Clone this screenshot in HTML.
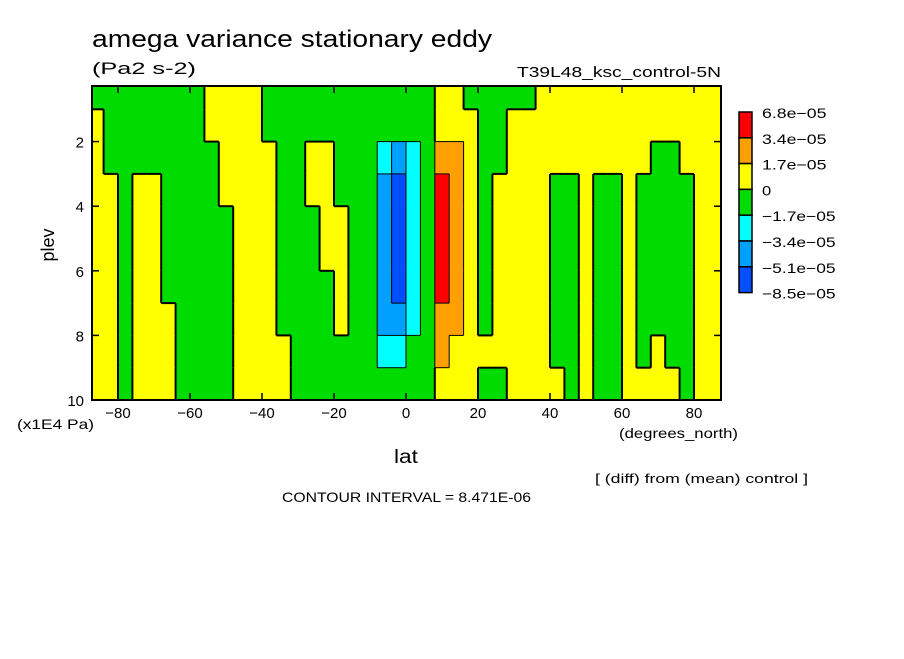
<!DOCTYPE html>
<html><head><meta charset="utf-8"><style>
body{margin:0;background:#fff;}
svg text{font-family:"Liberation Sans",sans-serif;fill:#000;}
</style></head><body>
<svg width="904" height="654" xmlns="http://www.w3.org/2000/svg">
<rect width="904" height="654" fill="#fff"/>
<g id="field"></g>
<g id="contours"></g>
<g id="axes"></g>
<g id="legend"></g>
<text x="92" y="47" font-size="24" textLength="400" lengthAdjust="spacingAndGlyphs">amega variance stationary eddy</text>
<text x="92" y="74" font-size="17" textLength="104" lengthAdjust="spacingAndGlyphs">(Pa2 s-2)</text>
<text x="517" y="77" font-size="15" textLength="204" lengthAdjust="spacingAndGlyphs">T39L48_ksc_control-5N</text>
<text x="0" y="0" font-size="18" text-anchor="middle" transform="translate(54,245) rotate(-90)">plev</text>
<text x="17" y="429" font-size="14" textLength="77" lengthAdjust="spacingAndGlyphs">(x1E4 Pa)</text>
<text x="619" y="438" font-size="14" textLength="119" lengthAdjust="spacingAndGlyphs">(degrees_north)</text>
<text x="394" y="463" font-size="19" textLength="24" lengthAdjust="spacingAndGlyphs">lat</text>
<text x="595" y="483" font-size="13" textLength="213" lengthAdjust="spacingAndGlyphs">[ (diff) from (mean) control ]</text>
<text x="282" y="502" font-size="14" textLength="249" lengthAdjust="spacingAndGlyphs">CONTOUR INTERVAL = 8.471E-06</text>
</svg>
<script>
// Column lat centres (-86..86 step 4), rows are plev bins; codes = colour level index
const latCenters = [-86,-82,-78,-74,-70,-66,-62,-58,-54,-50,-46,-42,-38,-34,-30,-26,-22,-18,-14,-10,-6,-2,2,6,10,14,18,22,26,30,34,38,42,46,50,54,58,62,66,70,74,78,82,86];
const plevEdges = [0.28,1,2,3,4,5,6,7,8,9,10];
const columnLevels = [
"3444444444","3334444444","3333333333","3334444444","3334444444","3333333444",
"3333333333","3333333333","4433333333","4444333333","4444444444","4444444444",
"3344444444","3333333344","3333333333","3344333333","3344443333","3333444433",
"3333333333","3333333333","3321111123","3310000123","3322222233","3333333333",
"4456666554","4455555544","3444444444","3333333343","3334444443","3444444444",
"3444444444","4444444444","4443333334","4443333333","4444444444","4443333333",
"4443333333","4444444444","4443333334","4433333344","4433333334","4443333333",
"4444444444","4444444444"];
const levelColors = ["#0050ff","#00a0ff","#00ffff","#00dc00","#ffff00","#ffa000","#ff0000"];
const legendLabels = ["6.8e-05","3.4e-05","1.7e-05","0","-1.7e-05","-3.4e-05","-5.1e-05","-8.5e-05"];
const xTicks = [-80,-60,-40,-20,0,20,40,60,80];
const yTicks = [2,4,6,8,10];

const NS="http://www.w3.org/2000/svg";
const X0=92,X1=721,Y0=86,Y1=400;
const xs=lat=>406+3.6*lat;
const ys=p=>400-(10-p)*32.3;
function mk(tag,attrs,parent){const e=document.createElementNS(NS,tag);for(const k in attrs)e.setAttribute(k,attrs[k]);parent.appendChild(e);return e;}
const field=document.getElementById('field');
const cont=document.getElementById('contours');
const colX=i=>{let xa=Math.max(X0,xs(latCenters[i]-2)),xb=Math.min(X1,xs(latCenters[i]+2));if(i===0)xa=X0;if(i===latCenters.length-1)xb=X1;return [xa,xb];};
const rowY=r=>[Math.max(Y0,ys(plevEdges[r])),ys(plevEdges[r+1])];
latCenters.forEach((lat,i)=>{
  const col=columnLevels[i];
  const [xa,xb]=colX(i);
  for(let r=0;r<plevEdges.length-1;r++){
    const lv=+col[r];
    const [ya,yb]=rowY(r);
    const rc=mk('rect',{x:xa,y:ya,width:xb-xa+0.5,height:yb-ya+0.5,fill:levelColors[lv]},field);
    
    
  }
});
// boundary lines between differing levels
latCenters.forEach((lat,i)=>{
  const [xa,xb]=colX(i);
  for(let r=0;r<plevEdges.length-1;r++){
    const lv=+columnLevels[i][r];
    const [ya,yb]=rowY(r);
    if(i+1<latCenters.length){
      const lv2=+columnLevels[i+1][r];
      if(lv2!==lv){
        const w=(Math.min(lv,lv2)===3&&Math.max(lv,lv2)===4)?2:1;
        const ln=mk('line',{x1:xb,x2:xb,y1:ya,y2:yb,stroke:'#000','stroke-width':w},cont);
        
        
      }
    }
    if(r+1<plevEdges.length-1){
      const lv2=+columnLevels[i][r+1];
      if(lv2!==lv){
        const w=(Math.min(lv,lv2)===3&&Math.max(lv,lv2)===4)?2:1;
        const ln=mk('line',{x1:xa,x2:xb,y1:yb,y2:yb,stroke:'#000','stroke-width':w},cont);
        
        
      }
    }
  }
});
const axes=document.getElementById('axes');
const frame=mk('rect',{x:X0,y:Y0,width:X1-X0,height:Y1-Y0,fill:'none',stroke:'#000','stroke-width':2},axes);


xTicks.forEach(t=>{
  const x=xs(t);
  const tk=mk('line',{x1:x,x2:x,y1:Y1,y2:Y1-7,stroke:'#000','stroke-width':1.5},axes);
  
  
  mk('line',{x1:x,x2:x,y1:Y0,y2:Y0+7,stroke:'#000','stroke-width':1.5},axes);
  const tx=mk('text',{x:x,y:418,'font-size':15,'text-anchor':'middle'},axes);
  tx.textContent=(t<0?'\u2212'+(-t):t);
  
  
});
yTicks.forEach(t=>{
  const y=ys(t);
  const tk=mk('line',{x1:X0,x2:X0+7,y1:y,y2:y,stroke:'#000','stroke-width':1.5},axes);
  
  
  mk('line',{x1:X1,x2:X1-7,y1:y,y2:y,stroke:'#000','stroke-width':1.5},axes);
  const tx=mk('text',{x:84,y:y+6,'font-size':15,'text-anchor':'end'},axes);
  tx.textContent=t;
  
  
});
const leg=document.getElementById('legend');
const LX=739,LY=112,LH=25.8;
for(let i=0;i<7;i++){
  const b=mk('rect',{x:LX,y:LY+i*LH,width:13,height:LH,fill:levelColors[6-i],stroke:'#000','stroke-width':1.5},leg);
  
  
}
legendLabels.forEach((l,i)=>{
  const t=mk('text',{x:762,y:LY+i*LH+6,'font-size':14},leg);
  t.textContent=l.replace(/-/g,'\u2212');
  t.setAttribute('textLength', l.length*9.2);
  t.setAttribute('lengthAdjust','spacingAndGlyphs');
  
  
});
</script>
</body></html>
